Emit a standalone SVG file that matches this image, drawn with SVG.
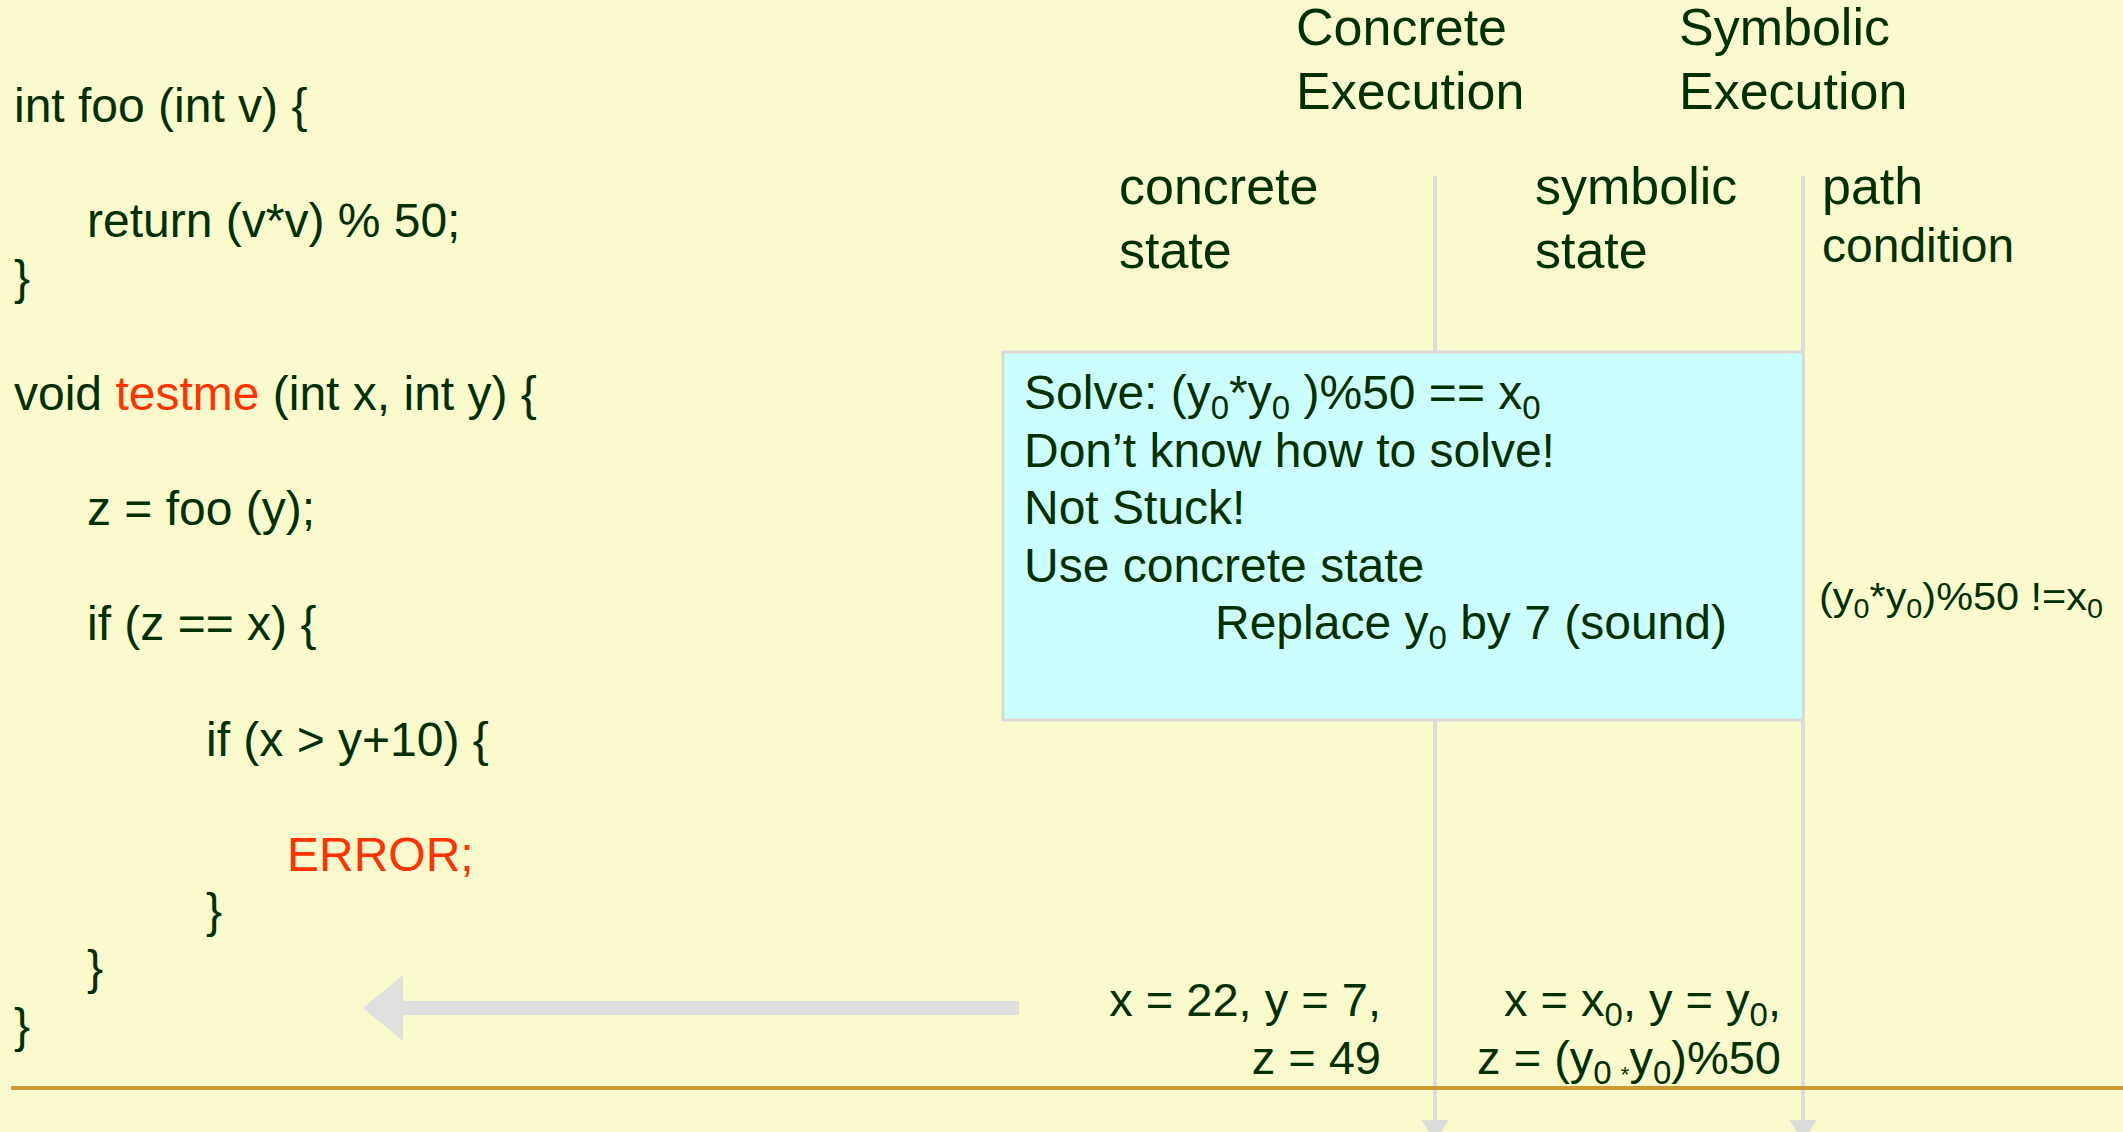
<svg xmlns="http://www.w3.org/2000/svg" width="2123" height="1132" viewBox="0 0 2123 1132">
<style>
text{font-family:"Liberation Sans",Arial,sans-serif;fill:#002f00}
.code{font-size:48px}
.red{fill:#ff3300}
.hd{font-size:52px}
.box{font-size:48px}
.bot{font-size:47px}
.sub{font-size:33px}
.vl{stroke:#dcdcdc;stroke-width:4}
</style>
<rect width="2123" height="1132" fill="#fbfacc"/>
<g id="connectors">
<line class="vl" x1="1435" y1="176" x2="1435" y2="1120"/>
<path d="M1421.5,1120 L1448.5,1120 L1435,1142 Z" fill="#dcdcdc"/>
<line class="vl" x1="1803" y1="176" x2="1803" y2="1120"/>
<path d="M1789.5,1120 L1816.5,1120 L1803,1142 Z" fill="#dcdcdc"/>
<polygon points="363,1008 403,975 403,1001 1019,1001 1019,1015 403,1015 403,1041" fill="#dfdfdf"/>
<line x1="11" y1="1088" x2="2123" y2="1088" stroke="#cc9933" stroke-width="4"/>
</g>
<g id="code">
<text class="code" x="14" y="122">int foo (int v) {</text>
<text class="code" x="87" y="237">return (v*v) % 50;</text>
<text class="code" x="14" y="294">}</text>
<text class="code" x="14" y="410">void <tspan class="red">testme</tspan> (int x, int y) {</text>
<text class="code" x="87" y="525">z = foo (y);</text>
<text class="code" x="87" y="640">if (z == x) {</text>
<text class="code" x="206" y="756">if (x &gt; y+10) {</text>
<text class="code red" x="287" y="871">ERROR;</text>
<text class="code" x="206" y="927">}</text>
<text class="code" x="87" y="984">}</text>
<text class="code" x="14" y="1042">}</text>
</g>
<g id="headers">
<text class="hd" x="1296" y="45">Concrete</text>
<text class="hd" x="1296" y="109">Execution</text>
<text class="hd" x="1679" y="45">Symbolic</text>
<text class="hd" x="1679" y="109">Execution</text>
<text class="hd" x="1119" y="204">concrete</text>
<text class="hd" x="1119" y="268">state</text>
<text class="hd" x="1535" y="204">symbolic</text>
<text class="hd" x="1535" y="268">state</text>
<text class="hd" x="1822" y="204">path</text>
<text x="1822" y="262" font-size="48">condition</text>
</g>
<g id="solver-box">
<rect x="1003" y="352" width="800" height="368" fill="#ccffff" stroke="#d9d9d9" stroke-width="3"/>
<text class="box" x="1024" y="409">Solve: (y<tspan class="sub" dy="10">0</tspan><tspan dy="-10">*y</tspan><tspan class="sub" dy="10">0</tspan><tspan dy="-10"> )%50 == x</tspan><tspan class="sub" dy="10">0</tspan></text>
<text class="box" x="1024" y="467">Don’t know how to solve!</text>
<text class="box" x="1024" y="524">Not Stuck!</text>
<text class="box" x="1024" y="582">Use concrete state</text>
<text class="box" x="1215" y="639">Replace y<tspan class="sub" dy="10">0</tspan><tspan dy="-10"> by 7 (sound)</tspan></text>
</g>
<g id="path-condition">
<text x="1819" y="610" font-size="39" textLength="284" lengthAdjust="spacingAndGlyphs">(y<tspan font-size="27" dy="8">0</tspan><tspan dy="-8">*y</tspan><tspan font-size="27" dy="8">0</tspan><tspan dy="-8">)%50 !=x</tspan><tspan font-size="27" dy="8">0</tspan></text>
</g>
<g id="concrete-state">
<text class="bot" x="1381" y="1016" text-anchor="end">x = 22, y = 7,</text>
<text class="bot" x="1381" y="1074" text-anchor="end">z = 49</text>
</g>
<g id="symbolic-state">
<text class="bot" x="1781" y="1016" text-anchor="end">x = x<tspan class="sub" dy="10">0</tspan><tspan dy="-10">, y = y</tspan><tspan class="sub" dy="10">0</tspan><tspan dy="-10">,</tspan></text>
<text class="bot" x="1781" y="1074" text-anchor="end">z = (y<tspan class="sub" dy="10">0 </tspan><tspan font-size="22" dy="-2">*</tspan><tspan dy="-8">y</tspan><tspan class="sub" dy="10">0</tspan><tspan dy="-10">)%50</tspan></text>
</g>
</svg>
